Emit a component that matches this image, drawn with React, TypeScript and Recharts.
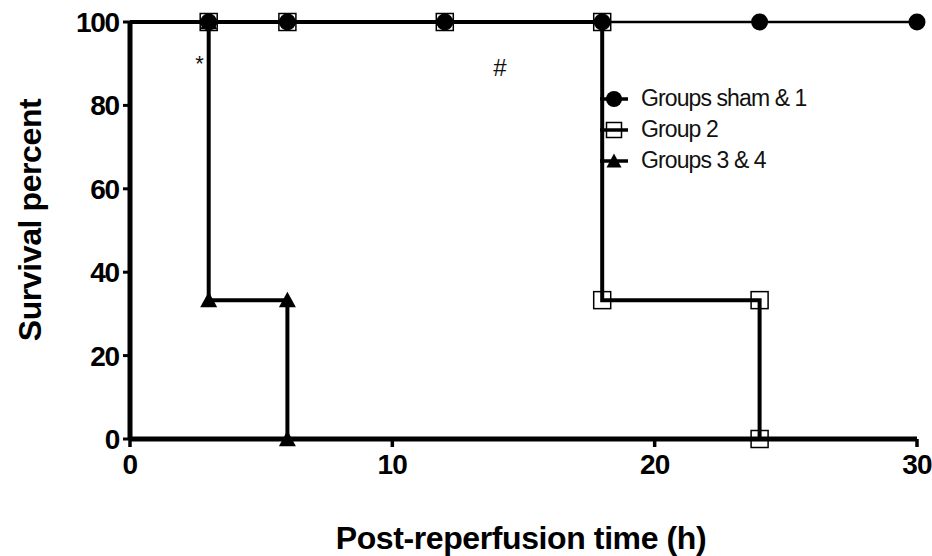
import { ComposedChart, Line, Scatter, XAxis, YAxis, Legend } from 'recharts';

const groupNames = ['Groups sham & 1', 'Group 2', 'Groups 3 & 4'];

// Kaplan-Meier steps: time (h) and survival (%)
const shamHours = [0, 3, 6, 12, 18, 24, 30];
const shamSurvival = [100, 100, 100, 100, 100, 100, 100];

const group2Hours = [0, 3, 6, 12, 18, 18, 24, 24];
const group2Survival = [100, 100, 100, 100, 100, 33.3, 33.3, 0];

const group34Hours = [0, 3, 3, 6, 6];
const group34Survival = [100, 100, 33.3, 33.3, 0];

const xTicks = [0, 10, 20, 30];
const yTicks = [0, 20, 40, 60, 80, 100];

const noteText = ['*', '#'];
const noteHours = [2.65, 14.1];
const noteSurvival = [90, 89];

const toRows = (hours: number[], surv: number[]) => hours.map((t, i) => ({ t, s: surv[i] }));

const shamData = toRows(shamHours, shamSurvival);
const group2Data = toRows(group2Hours, group2Survival);
const group34Data = toRows(group34Hours, group34Survival);
const noteData = noteText.map((text, i) => ({ t: noteHours[i], s: noteSurvival[i], text }));

const FONT = '"Liberation Sans", Arial, sans-serif';

const Circle = ({ cx, cy, r = 8.5 }: any) => <circle cx={cx} cy={cy} r={r} fill="#000" />;
const Square = ({ cx, cy, h = 8.5 }: any) => (
  <rect x={cx - h} y={cy - h} width={h * 2} height={h * 2} fill="none" stroke="#000" strokeWidth={1.5} />
);
const Triangle = ({ cx, cy, h = 8.5 }: any) => (
  <polygon points={`${cx},${cy - h} ${cx + h},${cy + h * 0.85} ${cx - h},${cy + h * 0.85}`} fill="#000" />
);

const makeDot = (Shape: any) => (props: any) => {
  const { cx, cy, index } = props;
  if (index === 0) return <g key={`d${index}`} />;
  return <Shape key={`d${index}`} cx={cx} cy={cy} />;
};

const shapes = [Circle, Square, Triangle];

const renderLegend = () => (
  <div style={{ fontFamily: FONT }}>
    {groupNames.map((name, i) => {
      const Shape = shapes[i];
      return (
        <div key={name} style={{ display: 'flex', alignItems: 'center', height: 31 }}>
          <svg width={36} height={22} style={{ marginRight: 7 }}>
            <line x1={2} y1={11} x2={30} y2={11} stroke="#000" strokeWidth={3.5} />
            <Shape cx={16} cy={11} r={8} h={7.5} />
          </svg>
          <span style={{ fontSize: 23, letterSpacing: -0.9, color: '#111' }}>{name}</span>
        </div>
      );
    })}
  </div>
);

const NoteShape = (props: any) => (
  <text
    x={props.cx}
    y={props.cy}
    textAnchor="middle"
    dominantBaseline="central"
    fontFamily={FONT}
    fontSize={props.payload.text === '*' ? 22 : 24}
    fill="#111"
  >
    {props.payload.text}
  </text>
);

export default function App() {
  return (
    <div style={{ position: 'absolute', left: 0, top: 0, width: 932, height: 556, background: '#fff' }}>
      <ComposedChart width={932} height={556} margin={{ top: 22, right: 15, bottom: 0, left: 0 }}>
        <XAxis
          type="number"
          dataKey="t"
          domain={[0, 30]}
          ticks={xTicks}
          allowDuplicatedCategory={false}
          axisLine={{ stroke: '#000', strokeWidth: 5 }}
          tickLine={{ stroke: '#000', strokeWidth: 3.5 }}
          tickSize={8}
          tickMargin={7}
          height={117}
          tick={{ fontSize: 28, fontWeight: 'bold', fill: '#000', fontFamily: FONT, letterSpacing: -0.8 }}
          label={{
            content: () => (
              <text x={521} y={549} textAnchor="middle" fontFamily={FONT} fontSize={32} fontWeight="bold" letterSpacing={-0.4} fill="#000">
                Post-reperfusion time (h)
              </text>
            ),
          }}
        />
        <YAxis
          type="number"
          dataKey="s"
          domain={[0, 100]}
          ticks={yTicks}
          width={130}
          axisLine={{ stroke: '#000', strokeWidth: 5 }}
          tickLine={{ stroke: '#000', strokeWidth: 3 }}
          tickSize={7}
          tickMargin={4}
          tick={{ fontSize: 28, fontWeight: 'bold', fill: '#000', fontFamily: FONT, letterSpacing: -1.2 }}
          label={{
            content: () => (
              <text
                x={41}
                y={220}
                transform="rotate(-90 41 220)"
                textAnchor="middle"
                fontFamily={FONT}
                fontSize={32}
                fontWeight="bold"
                letterSpacing={-0.4}
                fill="#000"
              >
                Survival percent
              </text>
            ),
          }}
        />
        <Legend
          layout="horizontal"
          verticalAlign="middle"
          align="center"
          content={renderLegend}
          wrapperStyle={{ left: 598, top: 83, width: 260 }}
        />
        <Line
          data={group34Data}
          dataKey="s"
          name={groupNames[2]}
          type="linear"
          stroke="#000"
          strokeWidth={4}
          dot={makeDot(Triangle)}
          activeDot={false}
          isAnimationActive={false}
        />
        <Line
          data={group2Data}
          dataKey="s"
          name={groupNames[1]}
          type="linear"
          stroke="#000"
          strokeWidth={4}
          dot={makeDot(Square)}
          activeDot={false}
          isAnimationActive={false}
        />
        <Line
          data={shamData}
          dataKey="s"
          name={groupNames[0]}
          type="linear"
          stroke="#000"
          strokeWidth={2.5}
          dot={makeDot(Circle)}
          activeDot={false}
          isAnimationActive={false}
        />
        <Scatter data={noteData} dataKey="s" shape={NoteShape} isAnimationActive={false} legendType="none" />
      </ComposedChart>
    </div>
  );
}
